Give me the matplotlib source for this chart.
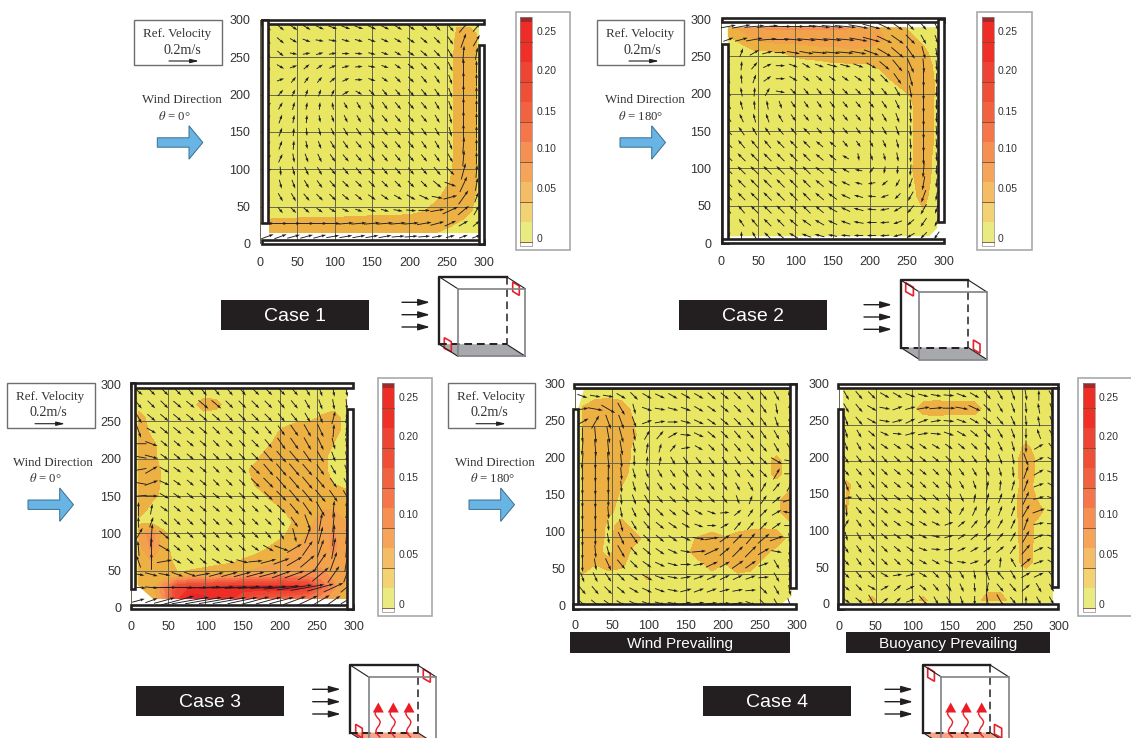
import numpy as np
import matplotlib
matplotlib.use('Agg')
import matplotlib.pyplot as plt
from matplotlib.patches import Rectangle, Polygon
from matplotlib.transforms import ScaledTranslation

plt.rcParams['mathtext.fontset'] = 'stix'
W, H = 1131, 738

grid_x = [10, 27.5, 45, 62.5, 80, 97.5, 115, 132.5, 150, 167.5, 185, 202.5, 220, 237.5, 255, 272.5, 290]
grid_y = [290, 272.5, 255, 237.5, 220, 202.5, 185, 167.5, 150, 132.5, 115, 97.5, 80, 62.5, 45, 27.5, 10]
axis_ticks = [0, 50, 100, 150, 200, 250, 300]
cbar_labels = ['0.25', '0.20', '0.15', '0.10', '0.05', '0']

# speed, hundredths of m/s, rows from y=290 to y=10
speed_1 = [
 [1.5,1.5,1.5,1.5,1.5,1.5,1.5,1.5,1.5,1.5,1.5,1.5,1.5,1.5,2,3,2],
 [1.5,1.5,1.2,1.2,1.2,1.2,1.2,1.2,1.2,1.2,1.2,1.5,1.5,1.5,1.8,4,3],
 [1.5,1.2,1,1,1,1,1,1,1,1,1,1.2,1.5,1.5,1.8,4.5,2.8],
 [1.5,1.2,1,1,1,1,1,1,1,1,1,1.2,1.5,1.5,1.8,4.5,2.8],
 [1.5,1,1,1,1,1,1,1,1,1,1.2,1.2,1.5,1.5,1.8,4.5,2.8],
 [1.5,1.2,1,1,1,1,1,1,1.2,1.2,1.2,1.5,1.5,1.5,1.8,4.5,2.8],
 [1.5,1.2,1.2,1,1,1,1,1.2,1.2,1.5,1.5,1.5,1.5,1.5,1.8,4.5,2.8],
 [1.5,1.5,1.2,1.2,1,1,1.2,1.2,1.5,1.5,1.5,1.5,1.5,1.5,1.8,4.5,2.8],
 [1.5,1.5,1.2,1.2,1.2,1.2,1.5,1.5,1.5,1.5,1.5,1.5,1.5,1.5,1.8,4.5,2.8],
 [1.5,1.5,1.5,1.2,1.2,1.5,1.5,1.5,1.5,1.5,1.5,1.5,1.5,1.5,1.8,4.5,2.8],
 [1.5,1.5,1.5,1.5,1.5,1.5,1.5,1.5,1.5,1.5,1.5,1.5,1.5,1.5,1.8,4.5,2.8],
 [1.5,1.5,1.5,1.5,1.5,1.5,1.5,1.5,1.5,1.5,1.5,1.5,1.5,2,2.2,5,3],
 [1.5,1.5,1.5,1.5,1.5,1.5,1.5,1.5,1.5,1.5,1.5,1.5,1.5,2,2.6,5,3],
 [1.5,1.5,1.5,1.5,1.5,1.5,1.5,1.5,1.5,1.5,1.5,1.8,2,2.2,3.5,5,2],
 [1,1,1,1,1,1,1,1,1.2,1.2,1.5,1.8,2.4,3.5,5,3.5,2],
 [3.2,3.5,3.5,3.8,3.8,3.8,4,4,4.5,4.5,4.2,4,3.8,3.5,2.8,2,1.5],
 [3,3,3,3,3,3,3,3,3,3,3,3,2.5,2,1.5,1.5,1.5],
]
speed_2 = [
 [4,6,7,8,8,8,8,8,8,8,7,6,4,3,2,1.5,1.5],
 [2,3,5,6,6,6,6,6,6,6,6,5.5,5,4,3,2,1.5],
 [1,1.5,2,2,2.4,3,3.5,4,4,4.5,4.5,4.5,4.5,4.5,4,3,1.5],
 [1.5,1.5,1.5,1.5,1.5,1.5,1.5,1.5,2,2,2,2.3,3,4,4.5,3.5,2],
 [1.5,1.5,1.5,1.5,1.5,1.5,1.2,1.2,1.2,1.2,1.5,1.5,2.2,3,4.5,4.5,2],
 [1.5,1.5,1.5,1.5,1.5,1.2,1.2,1.2,1.2,1.2,1.2,1.5,1.5,2,2.8,5,2],
 [1.5,1.5,1.5,1.5,1.2,1.2,1.2,1.2,1.2,1.2,1.2,1.2,1.5,1.8,2,4.5,1.8],
 [1.5,1.5,1.5,1.5,1.5,1.2,1.2,1.2,1.2,1.2,1.2,1.2,1.5,1.8,2,4.5,1.8],
 [1.8,1.8,1.5,1.5,1.5,1.5,1.5,1.2,1.2,1.2,1.2,1.2,1.5,1.8,2,4.5,1.8],
 [2,2,2,2,2,2,1.8,1.5,1.2,1.2,1,1,1.2,1.5,2,4.5,1.8],
 [2,2.2,2.2,2.2,2.2,2.2,2,1.8,1.5,1,1,1,1,1.5,2,4.2,1.5],
 [2,2.2,2.4,2.4,2.4,2.4,2.2,2,1.5,1.2,1,1,1,1.2,2.2,4,1.5],
 [2,2.2,2.4,2.4,2.4,2.4,2.2,2,1.8,1.5,1,1,1,1.2,2,3.5,1.5],
 [1.8,2,2.2,2.4,2.4,2.4,2.2,2.2,2,1.8,1.5,1.2,1.2,1.2,2,3,1.5],
 [1.5,1.8,2,2.2,2.2,2.2,2.2,2,2,1.8,1.8,1.5,1.5,1.5,1.8,2.5,1.5],
 [1,1.5,1.8,2,2,2,2,2,1.8,1.8,1.8,1.8,1.5,1.5,1.5,2,1.5],
 [1,1.2,1.5,1.5,1.5,1.8,1.8,1.8,1.5,1.5,1.5,1.5,1.5,1.5,1.5,1.5,1.5],
]
speed_3 = [
 [2,2,2,2,2,2,2,2,2,2,2,2,2,2,2,2,2],
 [2,2,2,2,2,3,2.8,2,2,2,2,2,2,2,2,2,2],
 [3,2,2,2,2,2,2,2,2,2,2,2,2,2,2.6,3,2],
 [4,2,2,2,2,2,2,2,2,2,2,2.6,3.2,3.5,3.5,3,2],
 [4.5,3,1.5,1.5,1.5,1.5,1.5,1.5,1.5,2,2.2,3.5,3.5,3.5,3.5,2.5,2],
 [4.5,3.2,1.5,1.5,1.5,1.5,1.5,1.5,1.5,2,3.5,4,4,3.5,3,2,2],
 [4.5,3.5,2,1.5,1.5,1.5,1.5,1.5,2,3,4,4.5,4.5,4,3,2,2],
 [4.5,3.5,2,1.5,1.5,1.5,1.5,1.5,1.5,2.7,3.5,4.5,4.5,4.5,3.5,2.4,2],
 [4.5,3,2,1.5,1.5,1.5,1.5,1.5,1.5,1.8,2.6,3.5,4.5,4.5,4.5,3.5,3],
 [3.5,2,1.5,1.5,1.5,1.5,1.5,1.5,1.5,1.5,2,2.4,3.5,4.5,5,5,4],
 [2,2,1.5,1.5,1.5,1.5,1.5,1.5,1.5,1.5,1.5,2,2.6,4.5,5.5,7,5],
 [5,9,3,1.5,1.5,1.5,1.5,1.5,1.5,1.5,1.5,2,3.5,5,5.5,8,5],
 [4,8,3,1.5,1.5,1.5,1.5,1.5,1.5,1.5,2.6,4,5,5.5,6,8,6],
 [3,5,4,1.5,1.5,1.5,1.8,2,2.7,3.5,4.5,5,5.5,6,7,7,7],
 [2.6,3,2.4,2.6,3,3.5,4,5,5.5,6,6.5,7,7.5,8,8,7,5],
 [4,3,10,18,20,20,21,22,22,22,23,23,22,20,13,8,4],
 [3,3,8,20,25,24,22,20,16,14,12,11,10,9,8,5,3],
]
speed_4 = [
 [2,2,2,2,2,2,2,2,2,2,2,2,2,2,2,2,2],
 [2.6,4,4.5,3.5,2,2,2,2,2,2,2,2,2,2,2,2,2],
 [3.5,4,4,4,2.4,2,2,2,2,2,2,2,2,2,2,2,2],
 [4,5,5,4.5,2.6,2,2,2,2,2,2,2,2,2,2,2,2],
 [4,5,5,4,2,2,1.5,1.5,1.5,1.5,1.5,2,2,2,2,2,2],
 [4.5,5,5,3.5,2,1.5,1.5,1.5,1.5,1.5,1.5,1.5,2,2,2,2.8,2],
 [4.5,5,4.5,3,2,1.5,1.5,1.5,1.5,1.5,1.5,1.5,1.5,2,2,2.8,2],
 [4.5,5,4,2.5,2,1.5,1.5,1.5,1.5,1.5,1.5,1.5,1.5,2,2,2,2],
 [4.5,5,3.5,2,2,2,1.5,1.5,1.5,1.5,1.5,1.5,1.5,1.5,2,2,3.5],
 [4.5,4.5,2.8,2,2,2,2,1.5,1.5,1.5,1.5,1.5,1.5,1.5,2,2,3.5],
 [4.5,4,2,3,2,2,2,2,1.5,1.5,1.5,1.5,2,2,2,2,2],
 [4.5,3.5,2,3.5,3,2,2,2,2,2.7,3.5,2.7,3,3.5,4,3.5,2],
 [4.5,3,2,3.5,2,2,2,2,2,3.5,4.5,3,4,4.5,3,2,2],
 [4,2.5,3,2.7,2,2,2,2,2,2,3,2.4,3.5,3,2,2,2],
 [2,2,2,2,2,2.6,2,2,2,2,2,2,2,2,2,2,2],
 [2,2,2,2,2,2,2,2,2.4,2,2,2,2,2,2,2,2],
 [2,2,2,2,2,2,2,2,2,2,2,2,2,2,2,2,2],
]
speed_5 = [
 [2,2,2,2,2,2,2,2,2,2,2,2,2,2,2,2,2],
 [2,2,2,2,2,2,3,3.2,3,3,3,2,2,2,2,2,2],
 [2,2,2,2,2,2,2,2,2,2,2,2,2,2,2,2,2],
 [1.5,1.5,1.5,1.5,1.5,2,2,2,2,2,2,2,2,2,2,2,1.5],
 [1.5,1.5,1.5,1.5,1.5,1.5,1.5,1.5,1.5,1.5,1.5,1.5,2,2,2.7,2,1.5],
 [1.5,1.5,1.5,1.5,1.5,1.5,1.5,1.5,1.5,1.5,1.5,1.5,2,2,3.2,2.2,1.5],
 [1.5,1.5,1.5,1.5,1.5,1.5,1.5,1.5,1.5,1.5,1.5,1.5,1.5,2,3.2,2.2,1.5],
 [3,1.5,1.5,1.5,1.5,1.5,1.5,1.5,1.5,1.5,1.5,1.5,2,2,3,2,1.5],
 [2.7,1.5,1.5,1.5,1.5,1.5,1.5,1.5,1.5,1.5,1.5,2,2,2,3.5,2.2,1.5],
 [2.6,1.5,1.5,1.5,1.5,1.5,1.5,1.5,1.5,1.5,2,2,2,2,3.5,3,1.5],
 [1.8,1.5,1.5,1.5,1.5,1.5,1.5,1.5,1.5,1.5,1.8,2,2,2,3.2,2,1.5],
 [1.5,1.5,1.5,1.5,1.5,1.5,1.5,1.5,1.5,1.5,1.8,1.8,1.8,2,3.2,2,1.5],
 [1.5,1.5,1.5,1.5,1.5,1.5,1.5,1.5,1.5,1.5,1.5,1.5,1.8,2,3,2,1.5],
 [1.5,1.5,1.5,1.5,1.5,1.5,1.5,1.5,1.5,1.5,1.5,1.5,2,2,3,2,1.5],
 [1.5,1.5,1.5,1.5,1.5,1.5,1.5,1.5,1.5,1.5,1.5,2,2,2,2,2,1.5],
 [1.5,1.5,1.5,1.5,1.5,1.5,1.5,1.5,1.5,1.5,1.5,2,2,2,2,2,1.5],
 [1.5,1.5,3,1.5,1.5,1.5,3,1.5,1.5,1.5,1.5,3.5,3.5,1.5,1.5,1.5,1.5],
]

# arrow direction, degrees from +x, rows from y=290 to y=10
angle_1 = [
 [-40,-40,-35,-30,-25,-20,-20,-20,-25,-25,-30,-35,-40,-45,-50,50,50],
 [-45,-40,-30,-20,-10,-10,-15,-15,-20,-25,-30,-35,-40,-45,-55,70,60],
 [-50,-40,-10,10,15,10,0,-5,-15,-20,-30,-35,-40,-45,-60,85,80],
 [-50,-30,20,40,35,25,15,5,-10,-20,-35,-40,-45,-50,-65,90,90],
 [-60,20,50,55,50,40,25,0,-20,-35,-45,-45,-50,-55,-70,90,90],
 [-70,50,65,70,70,65,30,-30,-45,-50,-50,-50,-50,-55,-70,90,90],
 [40,60,75,80,85,100,-60,-60,-55,-55,-50,-50,-50,-60,-70,90,90],
 [50,70,80,85,-80,-70,-65,-60,-55,-50,-50,-50,-50,-60,-75,90,90],
 [60,70,85,-85,-75,-65,-60,-55,-50,-50,-50,-50,-55,-60,-75,90,90],
 [50,70,85,-80,-70,-60,-55,-50,-50,-50,-50,-50,-55,-60,-70,85,90],
 [40,65,-80,-70,-65,-55,-50,-50,-50,-50,-50,-50,-50,-55,-60,85,90],
 [30,-85,-75,-65,-60,-50,-50,-50,-45,-50,-50,-50,-50,-50,-45,75,85],
 [-70,-75,-70,-60,-55,-50,-45,-45,-45,-45,-45,-45,-45,-40,-20,65,80],
 [-60,-60,-60,-50,-45,-45,-40,-40,-35,-35,-30,-30,-25,-10,15,55,70],
 [-50,-50,-45,-40,-35,-30,-25,-20,-15,-15,-10,-5,0,10,25,40,60],
 [0,0,0,0,0,0,5,5,5,5,5,5,10,15,25,30,40],
 [20,20,15,15,15,10,10,10,10,10,5,5,5,10,15,20,20],
]
angle_2 = [
 [10,10,5,5,0,0,0,-5,-5,-5,-10,-15,-25,-35,-45,-50,-60],
 [20,15,10,5,0,-5,-5,-5,-5,-5,-10,-15,-25,-35,-45,-60,-70],
 [90,70,30,15,0,-10,-10,-5,-5,-5,-10,-20,-30,-40,-55,-75,-80],
 [95,85,50,25,0,-20,-30,-20,-15,-15,-20,-30,-40,-50,-65,-85,-85],
 [110,95,70,35,0,-30,-40,-40,-35,-35,-35,-40,-45,-55,-75,-90,-90],
 [115,100,85,60,-10,-45,-50,-50,-50,-45,-45,-50,-50,-60,-80,-90,-90],
 [120,105,95,100,-70,-55,-55,-55,-50,-50,-50,-50,-55,-65,-85,-90,-90],
 [125,115,105,110,120,-55,-50,-50,-50,-50,-50,-55,-60,-70,-85,-90,-90],
 [130,125,120,125,130,130,135,-50,-50,-50,-55,-55,-60,-70,-85,-90,-85],
 [135,130,130,130,135,135,135,140,140,-50,-55,-60,-65,-75,-85,-90,-85],
 [135,135,135,135,135,135,135,140,140,150,-80,-70,-75,-80,-90,-90,-85],
 [135,135,135,135,135,135,135,140,145,150,170,-130,-100,-95,-95,-95,-90],
 [135,135,135,135,135,135,135,140,145,155,165,-170,-140,-120,-110,-100,-95],
 [130,135,135,135,135,135,135,140,145,155,165,175,-160,-135,-120,-110,-100],
 [120,130,135,135,135,135,135,140,150,155,165,175,-170,-150,-130,-120,-110],
 [100,125,130,135,135,140,145,150,155,160,170,180,-175,-160,-140,-125,-115],
 [60,90,120,135,140,150,160,165,170,175,180,180,-175,-165,-150,-135,-125],
]
angle_3 = [
 [-40,-45,-45,-45,-50,-50,-50,-50,-50,-45,-45,-45,-50,-60,-70,-80,-80],
 [-50,-45,-45,-40,-40,-40,-40,-45,-45,-45,-45,-50,-50,-60,-70,-80,-85],
 [-60,-40,-40,-40,-40,-40,-40,-45,-45,-45,-45,-50,-50,-60,-70,75,80],
 [-70,-30,-40,-40,-40,-40,-45,-45,-45,-45,-50,-55,-55,-60,-65,85,80],
 [180,-20,-40,-40,-40,-40,-45,-45,-45,-45,-50,-55,-55,-60,-65,-75,-80],
 [170,-15,-35,-40,-40,-40,-45,-45,-45,-45,-50,-50,-50,-55,-60,-70,-80],
 [190,30,-30,-35,-40,-40,-45,-45,-45,-45,-50,-50,-50,-50,-55,-60,-70],
 [170,20,-25,-35,-40,-40,-45,-45,-45,-45,-45,-50,-50,-50,-50,-55,-60],
 [185,0,-30,-35,-40,-40,-40,-45,-45,-45,-45,-45,-50,-50,-50,-55,-60],
 [90,80,-35,-40,-40,-40,-40,-45,-45,-45,-45,-45,-50,-55,-60,85,90],
 [90,70,-40,-45,-45,-45,-45,-45,-45,-45,-45,-50,-55,-70,80,85,90],
 [60,85,-40,-45,-45,-45,-45,-45,-45,-45,-50,-60,-75,70,75,85,85],
 [95,90,-30,-40,-45,-45,-45,-40,-40,-35,-30,-20,30,55,70,80,85],
 [110,90,10,-30,-40,-40,-30,-20,-15,5,15,20,30,40,55,70,80],
 [-10,-15,-10,-20,-20,10,15,15,15,15,15,20,20,30,40,55,70],
 [-5,-5,0,0,0,2,2,2,3,3,3,5,8,10,15,25,40],
 [15,20,15,15,10,10,10,10,12,15,15,15,20,25,30,35,30],
]
angle_4 = [
 [-20,-10,-10,-30,-45,-30,-25,-30,-30,-30,-40,-40,-45,-50,-50,-60,100],
 [10,-10,-30,-60,-75,-20,-10,-15,-20,-30,-35,-40,-45,-50,-55,-80,90],
 [30,60,-70,-70,-70,20,10,0,-15,-25,-35,-40,-45,-50,-55,-70,90],
 [-90,-85,-80,-75,-80,60,50,30,-5,-25,-40,-45,-50,-50,-55,-60,-60],
 [-95,-85,-85,-80,-80,80,75,50,10,-30,-45,-50,-50,-50,-50,-60,-60],
 [-95,-90,-85,-85,-90,85,80,-60,-55,-50,-50,-55,-55,-50,-45,-30,-10],
 [-90,-90,-90,-85,-75,-70,-60,-55,-50,-50,-50,-55,-55,-50,-45,60,0],
 [-90,-90,-90,-85,-75,-65,-55,-50,-45,-45,-50,-55,-60,-60,60,50,60],
 [-90,-90,-90,-85,-70,-60,-50,-45,-40,-40,-45,-55,-70,70,55,40,20],
 [-90,-90,-85,-80,-65,-55,-45,-40,-35,-30,-20,5,40,55,45,30,170],
 [-90,-90,-85,-75,-60,-50,-40,-35,-30,-20,0,30,50,50,45,35,0],
 [-90,-90,-80,-65,-55,-45,-40,-35,-25,-10,10,35,45,50,40,20,-80],
 [-90,-85,-75,-60,-50,-40,-35,-25,-10,5,25,40,45,45,30,-10,-90],
 [-90,-80,-65,-50,-45,-35,-25,-15,0,10,25,30,35,35,20,-60,-80],
 [-70,-65,-55,-45,-35,-30,-20,-10,10,20,25,25,25,20,5,-60,-85],
 [-50,-50,-45,-40,-30,-25,-20,-10,15,20,20,15,10,5,-45,-60,-80],
 [-40,-40,-35,-30,-25,-20,-15,-10,10,10,5,0,5,-20,-45,-60,-70],
]
angle_5 = [
 [-60,-50,-45,-30,-30,-20,-15,-10,-5,-20,-30,-50,-60,-70,-80,90,-60],
 [-60,-50,-30,-10,20,15,10,5,0,-10,-25,-45,-60,-70,-85,100,-70],
 [-70,-50,-30,-10,15,25,20,10,-5,-20,-30,-40,-50,-65,-85,100,-70],
 [-75,-60,-40,-25,-5,15,10,-5,-20,-30,-40,-50,-60,-70,-90,110,-60],
 [-70,-60,-45,-35,-35,-35,-35,-30,-35,-40,-45,-55,-65,-75,-90,30,-50],
 [-60,-55,-50,-50,-45,-40,-40,-40,-45,-50,-55,-60,-70,-80,-70,25,-30],
 [-50,-50,-50,-45,-40,-40,-40,-45,-50,-55,-60,-65,-75,-85,70,30,-20],
 [-70,-55,-50,-45,-40,-40,-45,-45,-50,-60,-70,80,85,75,70,20,-30],
 [10,-50,-50,-45,-40,-40,-40,-45,-55,-65,80,75,70,70,65,15,-20],
 [-85,-50,-45,-40,-35,-35,-40,-40,-45,60,65,65,70,70,60,20,-10],
 [60,-55,-50,-45,-35,-30,-30,-25,20,40,50,55,60,65,70,10,0],
 [-75,-60,-50,-40,-35,-30,-25,-10,15,35,40,45,50,60,60,25,-20],
 [-60,-55,-50,-45,-40,-35,-20,-5,10,25,30,35,40,55,50,25,-30],
 [-50,-55,-50,-45,-45,-40,-30,-30,-20,-10,20,45,85,120,40,20,-30],
 [-45,-50,-45,-30,10,15,-30,-45,-50,-60,-80,110,130,-60,30,25,-50],
 [-40,-45,-30,30,40,25,-40,-50,-55,-65,-85,-100,-50,-50,40,-60,-60],
 [-35,-40,-60,40,45,20,-50,-60,-60,-70,-90,-80,-60,-50,90,-60,-60],
]

YELLOW = '#E8E662'
field_levels = [2.5, 5, 7.5, 10, 12.5, 15, 17.5, 20, 22.5, 25, 30]
field_colors = ['#EDB042', '#F2A24A', '#F58F52', '#F5764A', '#F16241', '#EF4F36',
                '#EE4433', '#EE2D27', '#E3262A', '#A82A2B']
cbar_colors = ['#9E2A2B', '#EE2D27', '#EE3028', '#EE4433', '#EF4F36', '#F16241',
               '#F5764A', '#F58F52', '#F6A45A', '#F5BC66', '#F3D273', '#E9EB80', '#FFFFFF']

fig = plt.figure(figsize=(W / 100, H / 100), dpi=100, facecolor='white')
over = fig.add_axes([0, 0, 1, 1], zorder=10)
over.set_xlim(0, W)
over.set_ylim(H, 0)
over.axis('off')
over.patch.set_alpha(0)


def panel(left, right, top, bottom, speed, angle, field, walls, xpad=9, yshift=0):
    ax = fig.add_axes([left / W, 1 - bottom / H, (right - left) / W, (bottom - top) / H])
    ax.set_xlim(0, 300)
    ax.set_ylim(0, 300)
    for s in ax.spines.values():
        s.set_visible(False)
    ax.set_xticks(axis_ticks)
    ax.set_yticks(axis_ticks)
    ax.tick_params(length=0, labelsize=9, labelcolor='#333333')
    ax.tick_params(axis='x', pad=xpad)
    ax.tick_params(axis='y', pad=7)
    for t in ax.get_xticklabels() + ax.get_yticklabels():
        t.set_fontfamily('Liberation Sans')
    for t in ax.get_yticklabels():
        t.set_transform(t.get_transform() + ScaledTranslation(0, yshift / 100, fig.dpi_scale_trans))
    base = Polygon(field, fc=YELLOW, ec='none', zorder=1)
    ax.add_patch(base)
    sp = np.array(speed, float)
    an = np.radians(np.array(angle, float))
    gx, gy = np.meshgrid(grid_x, grid_y)
    cf = ax.contourf(gx, gy, sp, levels=field_levels, colors=field_colors, zorder=2)
    cf.set_clip_path(base)
    ax.grid(True, color='#66664A', lw=0.7, zorder=3)
    ax.set_axisbelow(False)
    length_px = 76 * np.sqrt(sp / 100)
    length = length_px * 300 / (right - left)
    ax.quiver(gx, gy, length * np.cos(an), length * np.sin(an), angles='xy', scale_units='xy',
              scale=1, units='dots', width=0.9, headwidth=3.2, headlength=5, headaxislength=4.6,
              minshaft=0.5, minlength=0.1, pivot='mid', color='#1E1E22', zorder=4, clip_on=False)
    for (x0, x1, y0, y1) in walls:
        ax.add_patch(Rectangle((x0, y0), x1 - x0, y1 - y0, fc='white', ec='#231F20',
                               lw=1.9, zorder=5, clip_on=False))


panel(260, 484, 20, 244, speed_1, angle_1, [(12, 15), (293, 15), (293, 294), (12, 294)],
      [(3, 300, 294, 300), (3, 11, 28, 300), (3, 300, 0, 6), (293, 300, 0, 267)])
panel(721, 944, 19, 243, speed_2, angle_2, [(9, 9), (280, 9), (291, 20), (291, 289), (9, 289)],
      [(2, 300, 296, 301), (292, 300, 28, 300), (2, 9, 0, 267), (2, 300, 0, 6)])
panel(131, 354, 384, 608, speed_3, angle_3, [(6, 33), (30, 12), (291, 12), (291, 295), (6, 295)],
      [(0, 298, 295, 301), (0, 6, 26, 301), (0, 298, -2, 4), (291, 298, -2, 267)])
panel(575, 797, 388.7, 610.7, speed_4, angle_4, [(4, 10), (280, 10), (293, 20), (293, 299), (12, 299), (4, 272)],
      [(-2, 298, 300.5, 306.5), (-3, 4, 2, 272), (-3, 298, 2, 8.5), (291, 298, 31, 306)], xpad=7, yshift=5)
panel(839, 1059, 388, 608, speed_5, angle_5, [(6, 7), (292, 7), (292, 299), (6, 299)],
      [(-1, 298, 300, 306), (-1, 6, -1, 272), (-1, 298, -1, 5), (291, 298, 28, 300)], yshift=4)


def colorbar(box_left, box_top):
    over.add_patch(Rectangle((box_left, box_top), 54.5, 238, fc='white', ec='#A7A9AC', lw=1.2))
    bx = box_left + 4.5
    bw = 12
    ys = [box_top + 5, box_top + 10, box_top + 30, box_top + 50, box_top + 70, box_top + 90, box_top + 110,
          box_top + 130, box_top + 150, box_top + 170, box_top + 190, box_top + 210, box_top + 230, box_top + 234]
    for i, c in enumerate(cbar_colors):
        over.add_patch(Rectangle((bx, ys[i]), bw, ys[i + 1] - ys[i], fc=c, ec='none'))
    for i in range(2, 13, 2):
        over.plot([bx, bx + bw], [ys[i], ys[i]], color='#7A4A30', lw=0.6)
    over.add_patch(Rectangle((bx, ys[0]), bw, ys[-1] - ys[0], fc='none', ec='#8A8A8A', lw=0.5))
    offs = [20.3, 59.3, 100.3, 137.3, 177.3, 227.3]
    for lab, o in zip(cbar_labels, offs):
        over.text(bx + bw + 4.3, box_top + o, lab, fontsize=7.4, family='Liberation Sans',
                  color='#333333', va='center', ha='left')


colorbar(515.7, 12)
colorbar(977, 12)
colorbar(377.5, 378)
colorbar(1078, 378)


def info(box_x0, box_x1, box_y, cx1, cx2, ax0, dir_cx, th_cx, theta, arrow_x0, arrow_y):
    over.add_patch(Rectangle((box_x0, box_y), box_x1 - box_x0, 45, fc='white', ec='#6D6E71', lw=1.0))
    over.text(cx1, box_y + 14, 'Ref. Velocity', family='Liberation Serif', fontsize=9.4,
              color='#333333', ha='center', va='center')
    over.text(cx2, box_y + 30, '0.2m/s', family='Liberation Serif', fontsize=10.2,
              color='#333333', ha='center', va='center')
    over.annotate('', xy=(ax0 + 30, box_y + 41), xytext=(ax0, box_y + 41),
                  arrowprops=dict(arrowstyle='-|>,head_length=0.5,head_width=0.12', lw=0.8, color='#231F20',
                                  shrinkA=0, shrinkB=0))
    over.text(dir_cx, box_y + 80, 'Wind Direction', family='Liberation Serif', fontsize=9.3,
              color='#333333', ha='center', va='center')
    over.text(th_cx, box_y + 96, r'$\theta$ = ' + theta, family='Liberation Serif', fontsize=9.2,
              color='#333333', ha='center', va='center')
    y = arrow_y
    x = arrow_x0
    over.add_patch(Polygon([(x, y - 4.7), (x + 31.7, y - 4.7), (x + 31.7, y - 16.7), (x + 45.5, y),
                            (x + 31.7, y + 16.7), (x + 31.7, y + 4.7), (x, y + 4.7)],
                           fc='#68B5E5', ec='#3A6E8E', lw=0.7))


info(134, 221.7, 20, 176.7, 182, 169, 182, 174, '0°', 157.3, 142.5)
info(596.7, 684, 20, 639.7, 642.7, 629, 645, 641, '180°', 620, 142.5)
info(7, 94.7, 382.7, 50, 48, 35, 53, 45, '0°', 28, 504.7)
info(447.7, 535, 382.7, 490.7, 489.7, 476, 494.7, 493, '180°', 469, 504.7)


def label(x0, x1, y0, y1, text, size):
    over.add_patch(Rectangle((x0, y0), x1 - x0, y1 - y0, fc='#231F20', ec='none'))
    over.text((x0 + x1) / 2, (y0 + y1) / 2 + 1.6, text, color='white', family='Liberation Sans',
              fontsize=size, ha='center', va='center')


label(221, 369, 300, 330, 'Case 1', 14)
label(679, 827, 300, 330, 'Case 2', 14)
label(136, 284, 686, 716, 'Case 3', 14)
label(703, 851, 686, 716, 'Case 4', 14)
label(570, 790, 632, 653, 'Wind Prevailing', 11)
label(846, 1050, 632, 653, 'Buoyancy Prevailing', 11)

wave_dx = [0, -2.5, -3.2, -1.5, 0.8, 2, 1, -1.2, -2.5, -1.2, 1.5]
wave_dy = [0, 2, 5, 8, 10.5, 13, 16, 19, 22, 25, 28]


def cube(x, y, floor, reds, arrow_x, arrow_y, heat_x=None):
    s = 67.5
    dx, dy = 18.7, 12
    over.add_patch(Polygon([(x, y + s), (x + s, y + s), (x + s + dx, y + s + dy), (x + dx, y + s + dy)],
                           fc=floor, ec='none'))
    over.plot([x, x + dx], [y, y + dy], color='#231F20', lw=0.8)
    over.plot([x + s, x + s + dx], [y, y + dy], color='#231F20', lw=0.8)
    over.plot([x, x + dx], [y + s, y + s + dy], color='#231F20', lw=0.8)
    over.plot([x + s, x + s + dx], [y + s, y + s + dy], color='#231F20', lw=0.8)
    over.plot([x + s, x, x], [y, y, y + s], color='#231F20', lw=1.7, solid_capstyle='projecting')
    over.plot([x, x + s], [y + s, y + s], color='#231F20', lw=1.4, ls=(0, (4, 2.5)))
    over.plot([x + s, x + s], [y, y + s], color='#231F20', lw=1.1, ls=(0, (5, 3)))
    over.plot([x + dx, x + dx + s, x + dx + s, x + dx, x + dx],
              [y + dy, y + dy, y + dy + s, y + dy + s, y + dy], color='#808285', lw=1.2)
    for pts in reds:
        over.add_patch(Polygon([(x + a, y + b) for a, b in pts], fc='none', ec='#E8202A', lw=1.2))
    for ay in arrow_y:
        over.annotate('', xy=(arrow_x + 28, ay), xytext=(arrow_x, ay),
                      arrowprops=dict(arrowstyle='-|>,head_length=0.7,head_width=0.2', lw=1.0, color='#231F20',
                                      shrinkA=0, shrinkB=0))
    if heat_x:
        for hx in heat_x:
            over.plot([hx + d for d in wave_dx], [y + 44 + d for d in wave_dy], color='#E8202A', lw=1.0)
            over.add_patch(Polygon([(hx, y + 37.5), (hx + 5.5, y + 47.5), (hx - 5.5, y + 47.5)],
                                   fc='#ED1C24', ec='none'))


cube(439, 276.7, '#A7A9AC', [[(73.7, 5.3), (80.3, 9.3), (80.3, 18.7), (73.7, 14.7)],
                              [(5.3, 61), (12.3, 65), (12.3, 75), (5.3, 71.7)]], 402, [302.3, 314.7, 327])
cube(900.7, 280, '#A7A9AC', [[(5, 2.7), (12.7, 7.3), (12.7, 16), (5, 11.7)],
                              [(72.7, 60), (79.3, 64), (79.3, 73.3), (72.7, 69.3)]], 864, [304.7, 317, 329.3])
cube(350, 665, '#F4A58A', [[(73.3, 4), (80.3, 8.3), (80.3, 17.3), (73.3, 13.3)],
                            [(5.7, 59.3), (12.3, 63.3), (12.3, 73), (5.7, 69)]], 312.7, [689.3, 701.7, 714],
     [378.3, 393.3, 409])
cube(922.7, 665, '#F4A58A', [[(5, 2.7), (11.7, 7), (11.7, 16.3), (5, 12.3)],
                              [(71.7, 59.3), (79, 63.3), (79, 73), (71.7, 69)]], 885, [689.3, 701.7, 714],
     [950.7, 966.3, 981.7])

fig.savefig('out.png', dpi=100, facecolor='white')
